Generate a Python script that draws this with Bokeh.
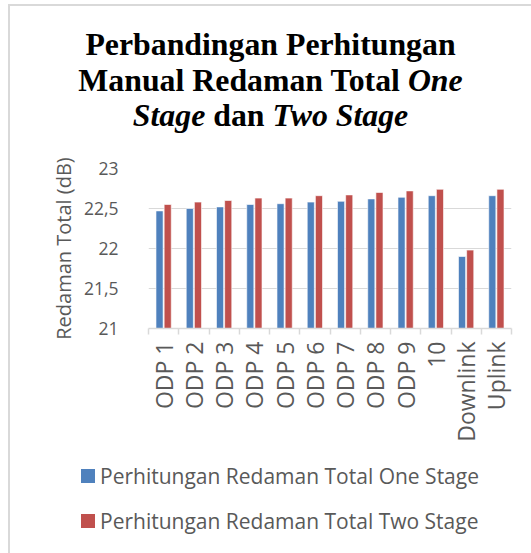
import math
from bokeh.plotting import figure
from bokeh.layouts import column
from bokeh.models import ColumnDataSource, Range1d, FixedTicker, LinearAxis, Div
from bokeh.transform import dodge
from bokeh.embed import file_html
from bokeh.resources import INLINE

# ---- data ----
categories = ["ODP 1", "ODP 2", "ODP 3", "ODP 4", "ODP 5", "ODP 6", "ODP 7",
              "ODP 8", "ODP 9", "10", "Downlink", "Uplink"]
one_stage = [22.47, 22.50, 22.52, 22.55, 22.56, 22.58, 22.59, 22.62, 22.64, 22.66, 21.90, 22.66]
two_stage = [22.55, 22.58, 22.60, 22.63, 22.63, 22.66, 22.67, 22.70, 22.72, 22.74, 21.98, 22.74]
y_ticks = [21, 21.5, 22, 22.5, 23]
y_tick_labels = ["21", "21,5", "22", "22,5", "23"]
series_names = ["Perhitungan Redaman Total One Stage", "Perhitungan Redaman Total Two Stage"]
y_title = "Redaman Total (dB)"
title_html = ("Perbandingan Perhitungan<br>Manual Redaman Total <i>One</i><br>"
              "<i>Stage</i> dan <i>Two Stage</i>")

BLUE = "#4F81BD"
RED = "#C0504D"
series_colors = [BLUE, RED]
GRID = "#D9D9D9"
TXT = "#595959"
SANS = "Open Sans"
W = 521

# ---------------- title ----------------
TH = 134
title = Div(width=W, height=TH, margin=(0, 0, 0, 0),
            text=('<div style="font-family:\'Liberation Serif\';font-weight:bold;'
                  'font-size:31.8px;line-height:35.6px;text-align:center;color:#000;'
                  'padding-top:21px;padding-left:5px;width:516px;">' + title_html + '</div>'))

# ---------------- main chart ----------------
n = len(categories)
centers = [i + 0.5 for i in range(n)]
src = ColumnDataSource(dict(pos=centers, cat=categories, one=one_stage, two=two_stage))

MH = 28 + 160 + 117
p = figure(width=W, height=MH, output_backend="svg", toolbar_location=None,
           x_range=Range1d(0, n), y_range=Range1d(21, 23),
           min_border_left=138, min_border_right=20, min_border_top=28, min_border_bottom=117,
           x_axis_location=None, y_axis_location=None)
p.outline_line_color = None

r1 = p.vbar(x=dodge("pos", -0.135), top="one", bottom=21, width=0.235,
            source=src, fill_color=series_colors[0], line_color="white", line_alpha=0.6, line_width=1)
r2 = p.vbar(x=dodge("pos", 0.135), top="two", bottom=21, width=0.235,
            source=src, fill_color=series_colors[1], line_color="white", line_alpha=0.6, line_width=1)

yax = LinearAxis(ticker=FixedTicker(ticks=y_ticks),
                 major_label_overrides={t: l for t, l in zip(y_ticks, y_tick_labels)})
yax.axis_line_color = None
yax.major_tick_line_color = None
yax.minor_tick_line_color = None
yax.major_label_standoff = 24
yax.major_label_text_font = SANS
yax.major_label_text_font_size = "17.5px"
yax.major_label_text_color = TXT
yax.axis_label = y_title
yax.axis_label_text_font = SANS
yax.axis_label_text_font_size = "20px"
yax.axis_label_text_font_style = "normal"
yax.axis_label_text_color = TXT
yax.axis_label_standoff = 4
p.add_layout(yax, "left")

p.ygrid.ticker = FixedTicker(ticks=y_ticks)
p.ygrid.grid_line_color = GRID
p.ygrid.grid_line_width = 1.2
p.xgrid.grid_line_color = None

sep = LinearAxis(ticker=FixedTicker(ticks=list(range(n + 1))))
sep.axis_line_color = GRID
sep.axis_line_width = 1.5
sep.major_tick_line_color = GRID
sep.major_tick_line_width = 1.5
sep.major_tick_out = 6
sep.major_tick_in = 0
sep.minor_tick_line_color = None
sep.major_label_text_font_size = "0px"
sep.major_label_text_alpha = 0
sep.major_label_standoff = 0
p.add_layout(sep, "below")

xax = LinearAxis(ticker=FixedTicker(ticks=centers),
                 major_label_overrides={c: l for c, l in zip(centers, categories)})
xax.axis_line_color = None
xax.major_tick_line_color = None
xax.minor_tick_line_color = None
xax.major_label_orientation = math.pi / 2
xax.major_label_standoff = 1
xax.major_label_text_font = SANS
xax.major_label_text_font_size = "23px"
xax.major_label_text_color = TXT
p.add_layout(xax, "below")

# ---------------- legend ----------------
LH = 553 - 6 - TH - MH
rows = "".join(
    '<div style="display:flex;align-items:center;height:45px;white-space:nowrap;">'
    '<span style="display:inline-block;width:14px;height:14px;background:%s;margin-right:5px;"></span>'
    '%s</div>' % (c, s)
    for c, s in zip(series_colors, series_names))
legend = Div(width=W, height=LH, margin=(0, 0, 0, 0),
             text=('<div style="padding:8.5px 0 0 71px;font-family:\'Open Sans\';'
                   'font-size:21px;color:%s;">' % TXT) + rows + '</div>')

layout = column(title, p, legend, spacing=0,
                styles={"margin-left": "8px", "margin-top": "4px",
                        "border-left": "2px solid #D9D9D9", "border-top": "2px solid #D9D9D9"})

open("out.html", "w").write(file_html(layout, INLINE))
